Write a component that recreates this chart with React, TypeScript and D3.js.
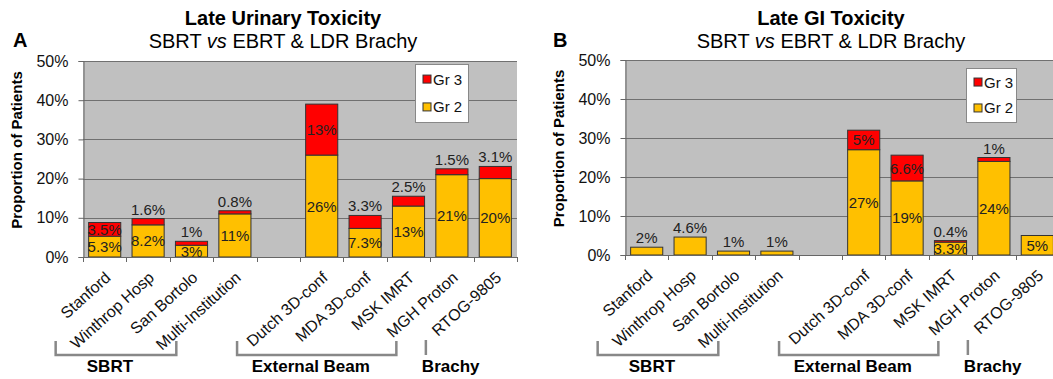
import React, { useEffect, useRef } from "react";
import * as d3 from "d3";

const categories = [
  "Stanford",
  "Winthrop Hosp",
  "San Bortolo",
  "Multi-Institution",
  "",
  "Dutch 3D-conf",
  "MDA 3D-conf",
  "MSK IMRT",
  "MGH Proton",
  "RTOG-9805",
];

// percent values, null = empty slot
const urinaryGr2 = [5.3, 8.2, 3, 11, null, 26, 7.3, 13, 21, 20];
const urinaryGr3 = [3.5, 1.6, 1, 0.8, null, 13, 3.3, 2.5, 1.5, 3.1];
const giGr2 = [2, 4.6, 1, 1, null, 27, 19, 3.3, 24, 5];
const giGr3 = [0, 0, 0, 0, null, 5, 6.6, 0.4, 1, 0];

const yTicks = [0, 10, 20, 30, 40, 50];
const legendItems = ["Gr 3", "Gr 2"];
const groups = [
  { name: "SBRT", from: -0.63, to: 2.15, label: 0.62 },
  { name: "External Beam", from: 3.55, to: 7.22, label: 5.25 },
  { name: "Brachy", from: 7.9, to: 7.9, label: null },
];

const FONT = "'Liberation Sans', Arial, sans-serif";
const YELLOW = "#FFC000";
const RED = "#FF0000";

const panels = [
  {
    letter: "A",
    title: "Late Urinary Toxicity",
    gr2: urinaryGr2,
    gr3: urinaryGr3,
    x0: 83,
    top: 61,
    bottom: 257,
    titleX: 283,
    letterX: 13,
    legend: { x: 415, y: 64, w: 53, h: 58 },
  },
  {
    letter: "B",
    title: "Late GI Toxicity",
    gr2: giGr2,
    gr3: giGr3,
    x0: 625,
    top: 60,
    bottom: 255,
    titleX: 831,
    letterX: 553,
    legend: { x: 966, y: 68, w: 50, h: 54 },
  },
];

const W = 1053;
const H = 379;

const App = () => {
  const ref = useRef(null);

  useEffect(() => {
    const svg = d3.select(ref.current);
    svg.selectAll("*").remove();

    panels.forEach((p) => {
      const g = svg.append("g");
      const plotW = 434;
      const x = d3
        .scaleBand()
        .domain(categories.map((_, i) => String(i)))
        .range([p.x0, p.x0 + plotW])
        .paddingInner(0.26)
        .paddingOuter(0.13);
      const step = x.step();
      const y = d3.scaleLinear().domain([0, 50]).range([p.bottom, p.top]);

      // titles
      g.append("text")
        .attr("x", p.titleX)
        .attr("y", 25)
        .attr("text-anchor", "middle")
        .attr("font-family", FONT)
        .attr("font-weight", "bold")
        .attr("font-size", 20)
        .text(p.title);
      const sub = g
        .append("text")
        .attr("x", p.titleX)
        .attr("y", 48)
        .attr("text-anchor", "middle")
        .attr("font-family", FONT)
        .attr("font-size", 20);
      sub.append("tspan").text("SBRT ");
      sub.append("tspan").attr("font-style", "italic").text("vs");
      sub.append("tspan").text(" EBRT & LDR Brachy");
      g.append("text")
        .attr("x", p.letterX)
        .attr("y", 47)
        .attr("font-family", FONT)
        .attr("font-weight", "bold")
        .attr("font-size", 20)
        .text(p.letter);

      // plot background
      g.append("rect")
        .attr("x", p.x0)
        .attr("y", p.top)
        .attr("width", plotW)
        .attr("height", p.bottom - p.top)
        .attr("fill", "#C0C0C0");

      // gridlines
      g.selectAll(".grid")
        .data(yTicks.filter((t) => t > 0))
        .enter()
        .append("line")
        .attr("x1", p.x0)
        .attr("x2", p.x0 + plotW)
        .attr("y1", (d) => Math.round(y(d)) + 0.5)
        .attr("y2", (d) => Math.round(y(d)) + 0.5)
        .attr("stroke", "#707070")
        .attr("stroke-width", 1);

      // y axis
      const yAxis = g
        .append("g")
        .attr("transform", `translate(${p.x0 + 0.5},0)`)
        .call(
          d3
            .axisLeft(y)
            .tickValues(yTicks)
            .tickSize(5)
            .tickPadding(10)
            .tickFormat((d) => `${d}%`)
        );
      yAxis.select(".domain").attr("stroke", "#666");
      yAxis.selectAll(".tick line").attr("stroke", "#666");
      yAxis
        .selectAll("text")
        .attr("font-family", FONT)
        .attr("font-size", 16)
        .attr("fill", "#111");

      g.append("text")
        .attr("transform", `translate(${p.x0 - 61},${(p.top + p.bottom) / 2 - 9}) rotate(-90)`)
        .attr("text-anchor", "middle")
        .attr("font-family", FONT)
        .attr("font-weight", "bold")
        .attr("font-size", 15)
        .text("Proportion of Patients");

      // bars
      const labelStyle = (sel) =>
        sel
          .attr("text-anchor", "middle")
          .attr("font-family", FONT)
          .attr("font-size", 15)
          .attr("fill", "#222");

      categories.forEach((c, i) => {
        const v2 = p.gr2[i];
        const v3 = p.gr3[i];
        if (v2 == null) return;
        const bx = x(String(i));
        const bw = x.bandwidth();
        const cx = bx + bw / 2;
        g.append("rect")
          .attr("x", bx)
          .attr("y", y(v2))
          .attr("width", bw)
          .attr("height", y(0) - y(v2))
          .attr("fill", YELLOW)
          .attr("stroke", "#333")
          .attr("stroke-width", 1);
        if (v3 > 0) {
          g.append("rect")
            .attr("x", bx)
            .attr("y", y(v2 + v3))
            .attr("width", bw)
            .attr("height", y(v2) - y(v2 + v3))
            .attr("fill", RED)
            .attr("stroke", "#333")
            .attr("stroke-width", 1);
        }
        const total = v2 + (v3 || 0);
        // Gr 2 label
        const gr2Above = !(v3 > 0) && v2 < 5;
        g.append("text")
          .call(labelStyle)
          .attr("x", cx)
          .attr("y", gr2Above ? y(total) - 4 : (y(0) + y(v2)) / 2 + 5.5)
          .text(`${v2}%`);
        // Gr 3 label
        if (v3 > 0) {
          const inside = v3 >= 3.4;
          g.append("text")
            .call(labelStyle)
            .attr("x", cx)
            .attr("y", inside ? (y(v2) + y(total)) / 2 + 5.5 : y(total) - 4)
            .text(`${v3}%`);
        }
      });

      // x axis
      g.append("line")
        .attr("x1", p.x0)
        .attr("x2", p.x0 + plotW)
        .attr("y1", p.bottom + 0.5)
        .attr("y2", p.bottom + 0.5)
        .attr("stroke", "#666");
      g.selectAll(".xtick")
        .data(d3.range(categories.length + 1))
        .enter()
        .append("line")
        .attr("x1", (d) => Math.round(p.x0 + d * step) + 0.5)
        .attr("x2", (d) => Math.round(p.x0 + d * step) + 0.5)
        .attr("y1", p.bottom)
        .attr("y2", p.bottom + 5)
        .attr("stroke", "#666");

      categories.forEach((c, i) => {
        if (!c) return;
        const cx = x(String(i)) + x.bandwidth() / 2;
        g.append("text")
          .attr("transform", `translate(${cx + 7},${p.bottom + 22}) rotate(-42)`)
          .attr("text-anchor", "end")
          .attr("font-family", FONT)
          .attr("font-size", 16)
          .attr("fill", "#111")
          .text(c);
      });

      // group brackets
      groups.forEach((gr) => {
        const xa = p.x0 + gr.from * step;
        const xb = p.x0 + gr.to * step;
        if (gr.from === gr.to) {
          g.append("line")
            .attr("x1", xa)
            .attr("x2", xa)
            .attr("y1", 340)
            .attr("y2", 355)
            .attr("stroke", "#888")
            .attr("stroke-width", 2.5);
          g.append("text")
            .attr("x", xa - 4)
            .attr("y", 372)
            .attr("font-family", FONT)
            .attr("font-weight", "bold")
            .attr("font-size", 17)
            .text(gr.name);
        } else {
          g.append("path")
            .attr("d", `M${xa},341V355H${xb}V341`)
            .attr("fill", "none")
            .attr("stroke", "#888")
            .attr("stroke-width", 2.5);
          g.append("text")
            .attr("x", p.x0 + gr.label * step)
            .attr("y", 372)
            .attr("text-anchor", "middle")
            .attr("font-family", FONT)
            .attr("font-weight", "bold")
            .attr("font-size", 17)
            .text(gr.name);
        }
      });

      // legend
      const L = p.legend;
      g.append("rect")
        .attr("x", L.x + 0.5)
        .attr("y", L.y + 0.5)
        .attr("width", L.w)
        .attr("height", L.h)
        .attr("fill", "#fff")
        .attr("stroke", "#888");
      legendItems.forEach((name, k) => {
        const ly = L.y + L.h * (k === 0 ? 0.26 : 0.74);
        g.append("rect")
          .attr("x", L.x + 8)
          .attr("y", ly - 4)
          .attr("width", 8)
          .attr("height", 8)
          .attr("fill", k === 0 ? RED : YELLOW)
          .attr("stroke", "#333");
        g.append("text")
          .attr("x", L.x + 18)
          .attr("y", ly + 5.5)
          .attr("font-family", FONT)
          .attr("font-size", 15)
          .attr("fill", "#111")
          .text(name);
      });
    });
  }, []);

  return (
    <div style={{ position: "absolute", left: 0, top: 0 }}>
      <svg ref={ref} width={W} height={H} style={{ display: "block", background: "#fff" }} />
    </div>
  );
};

export default App;
